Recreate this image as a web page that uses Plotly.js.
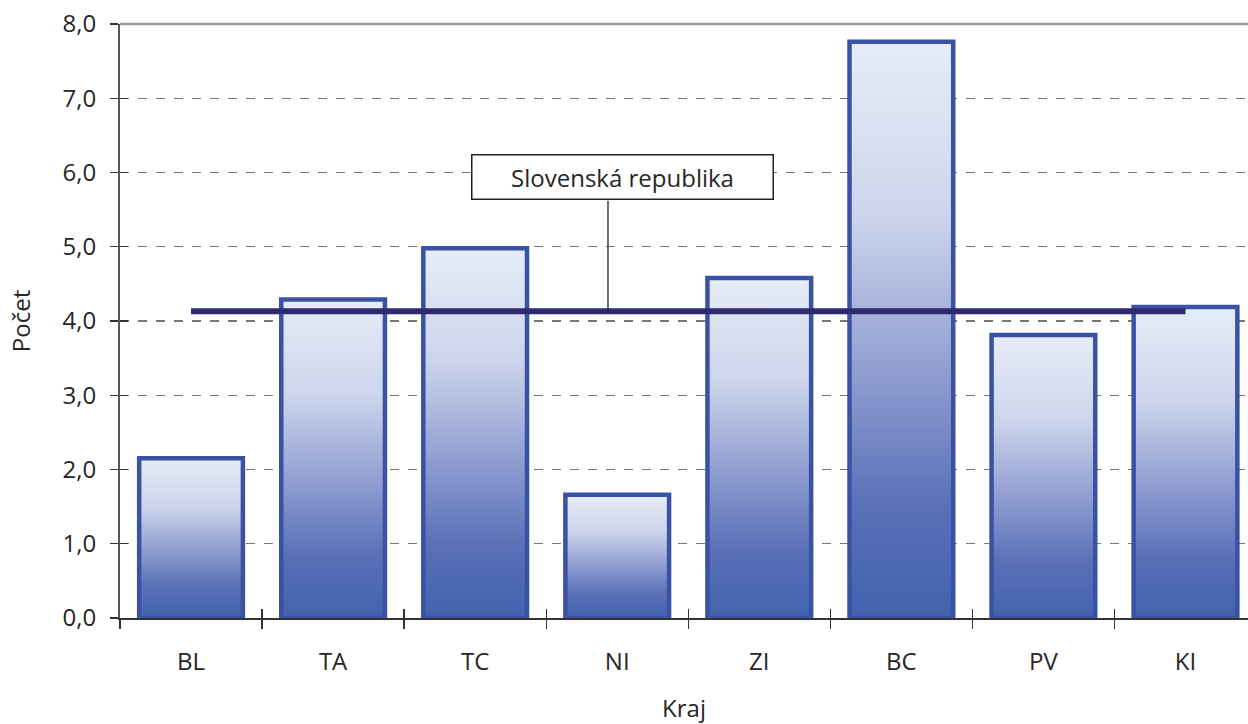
<!DOCTYPE html>
<html>
<head>
<meta charset="utf-8">
<script src="https://cdn.plot.ly/plotly-3.0.1.min.js"></script>
<style>
html,body{margin:0;padding:0;background:#fff;}
#chart{width:1248px;height:724px;}
</style>
</head>
<body>
<div id="chart"></div>
<script>
// ---- data ----
const categories = ["BL", "TA", "TC", "NI", "ZI", "BC", "PV", "KI"];
const values = [2.15, 4.29, 4.98, 1.66, 4.58, 7.76, 3.81, 4.19];
const nationalValue = 4.13;
const nationalLabel = "Slovenská republika";
const yTicks = [0, 1, 2, 3, 4, 5, 6, 7, 8];
const xTitle = "Kraj";
const yTitle = "Počet";

// ---- style ----
const FONT = "Open Sans, Noto Sans, sans-serif";
const TXT = "#262626";
const barW = 0.73;
const gradient = [
  [0, "#4262ae"], [0.2, "#5a70b8"], [0.45, "#95a2d3"],
  [0.7, "#cdd5ec"], [1, "#e6ecf7"]
];

const idx = categories.map((_, i) => i);
const bounds = categories.map((_, i) => i - 0.5).concat([categories.length - 0.5]);
const traces = [];

// bars: gradient-filled rectangles built from the data, with blue outline
values.forEach((v, i) => {
  traces.push({
    type: "scatter", mode: "lines",
    x: [i - barW / 2, i + barW / 2, i + barW / 2, i - barW / 2, i - barW / 2],
    y: [0, 0, v, v, 0],
    fill: "toself",
    fillgradient: { type: "vertical", colorscale: gradient },
    line: { width: 4.5, color: "#3a52a3" },
    hoverinfo: "skip", showlegend: false
  });
});

// national average line
traces.push({
  type: "scatter", mode: "lines",
  x: [idx[0], idx[idx.length - 1]],
  y: [nationalValue, nationalValue],
  line: { color: "#2f2a70", width: 6 },
  hoverinfo: "skip", showlegend: false
});

// dummy trace for the overlay axis (inside ticks)
traces.push({
  type: "scatter", mode: "markers", x: [idx[0]], y: [0],
  xaxis: "x2", yaxis: "y2", marker: { opacity: 0 },
  hoverinfo: "skip", showlegend: false
});

const tickStyle = { tickwidth: 1.3, tickcolor: "#333" };

const layout = {
  width: 1248, height: 724,
  margin: { l: 120, r: 0, t: 24, b: 106 },
  paper_bgcolor: "#fff", plot_bgcolor: "#fff",
  font: { family: FONT, size: 24, color: TXT },
  showlegend: false,
  hovermode: false,
  xaxis: {
    range: [-0.5, 7.44],
    tickmode: "array",
    tickvals: idx,
    ticktext: categories,
    ticks: "outside", ticklen: 9, tickcolor: "rgba(0,0,0,0)",
    minor: Object.assign({ tickvals: bounds, ticks: "outside", ticklen: 9, showgrid: false }, tickStyle),
    ticklabelstandoff: 12,
    showgrid: false, zeroline: false,
    showline: true, linecolor: "#333", linewidth: 2.2,
    tickfont: { size: 24, color: TXT },
    title: { text: xTitle, font: { size: 24, color: TXT }, standoff: 25 }
  },
  xaxis2: {
    overlaying: "x", matches: "x", anchor: "y2", side: "bottom",
    tickmode: "array", tickvals: bounds, ticks: "inside", ticklen: 9,
    tickwidth: 1.3, tickcolor: "#333",
    showticklabels: false, showgrid: false, zeroline: false, showline: false
  },
  yaxis2: {
    overlaying: "y", matches: "y", anchor: "x2", side: "left",
    tickmode: "array", tickvals: yTicks, ticks: "inside", ticklen: 8,
    tickwidth: 1.3, tickcolor: "#333",
    showticklabels: false, showgrid: false, zeroline: false, showline: false
  },
  yaxis: {
    range: [0, 8],
    tickmode: "array",
    tickvals: yTicks,
    tickformat: ".1f",
    ticks: "outside", ticklen: 8, tickwidth: 1.3, tickcolor: "#333",
    showgrid: true, gridcolor: "#777", gridwidth: 1.2, griddash: "dash",
    zeroline: false,
    showline: true, linecolor: "#555", linewidth: 2,
    tickfont: { size: 24, color: TXT },
    ticklabelstandoff: 9,
    title: { text: yTitle, font: { size: 24, color: TXT }, standoff: 25 }
  },
  separators: ", ",
  shapes: [{
    type: "line", xref: "paper", yref: "paper", x0: 0, x1: 1, y0: 1, y1: 1,
    line: { color: "#9a9a9a", width: 2.5 }, layer: "above"
  }],
  annotations: [
    {
      x: 3.04, y: 5.94, xref: "x", yref: "y",
      text: nationalLabel, showarrow: false,
      font: { size: 24, color: TXT },
      bgcolor: "#fff", bordercolor: "#222", borderwidth: 1.5,
      width: 298, height: 41
    },
    {
      x: 2.935, y: nationalValue, xref: "x", yref: "y",
      text: "", showarrow: true, arrowhead: 0, arrowwidth: 1.3, arrowcolor: "#222",
      ax: 0, ay: -112
    }
  ]
};

Plotly.newPlot("chart", traces, layout, { displayModeBar: false, staticPlot: true });
</script>
</body>
</html>
